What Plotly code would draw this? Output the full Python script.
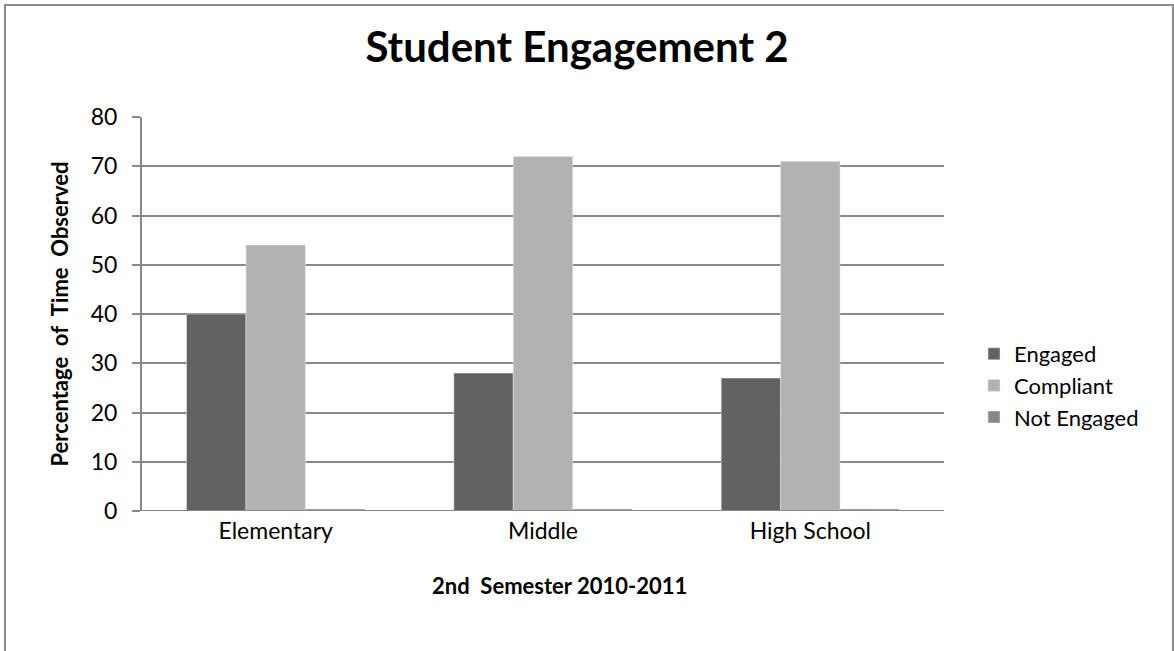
import plotly.graph_objects as go

categories = ["Elementary", "Middle", "High School"]
engaged = [40, 28, 27]
compliant = [54, 72, 71]
not_engaged = [0.4, 0.4, 0.4]
y_ticks = [0, 10, 20, 30, 40, 50, 60, 70, 80]

W, H = 1174, 651
L, R, T, B = 142, 944, 117, 511
FONT = "Lato, Open Sans, sans-serif"
GRID = "#898989"


def px(x):
    """Pixel x -> paper fraction."""
    return (x - L) / (R - L)


def py(y):
    """Pixel y -> paper fraction."""
    return (B - y) / (B - T)


fig = go.Figure()
fig.add_trace(go.Bar(name="Engaged", x=categories, y=engaged, marker_color="#626262"))
fig.add_trace(go.Bar(name="Compliant", x=categories, y=compliant, marker_color="#b2b2b2"))
fig.add_trace(go.Bar(name="Not Engaged", x=categories, y=not_engaged, marker_color="#878787"))

fig.update_layout(
    width=W, height=H,
    margin=dict(l=L, r=W - R, t=T, b=H - B),
    paper_bgcolor="white", plot_bgcolor="white",
    barmode="group", bargap=0.333, bargroupgap=0,
    font=dict(family=FONT, size=22, color="#000000"),
    title=dict(text="<b>Student Engagement 2</b>", x=577 / W, xanchor="center",
               y=1 - 47 / H, yanchor="middle", font=dict(size=42, family=FONT)),
    xaxis=dict(showgrid=False, showline=False, ticks="", tickfont=dict(size=23),
               ticklabelstandoff=4),
    yaxis=dict(range=[0, 80], tickvals=y_ticks, showgrid=True, gridcolor=GRID, gridwidth=2,
               showline=True, linecolor=GRID, linewidth=2, ticks="outside", ticklen=8,
               tickcolor=GRID, tickwidth=2, tickfont=dict(size=23), zeroline=False,
               ticklabelstandoff=10,
               title=dict(text="<b>Percentage  of  Time  Observed</b>", font=dict(size=22), standoff=16)),
    legend=dict(x=px(974), y=py(333), xanchor="left", yanchor="top",
                font=dict(size=22), tracegroupgap=0, itemwidth=30),
)

# x-axis title
fig.add_annotation(text="<b>2nd  Semester 2010-2011</b>", xref="paper", yref="paper",
                   x=px(559), y=py(585), xanchor="center", yanchor="middle",
                   showarrow=False, font=dict(size=22))

# zero baseline and outer chart border
fig.add_shape(type="line", xref="paper", yref="y", x0=0, x1=1, y0=0, y1=0,
              line=dict(color=GRID, width=2))
fig.add_shape(type="rect", xref="paper", yref="paper",
              x0=px(5), x1=px(1173), y0=py(5), y1=py(H + 20),
              line=dict(color="#8c8c8c", width=2), fillcolor="rgba(0,0,0,0)", layer="below")

fig.write_html("out.html")
